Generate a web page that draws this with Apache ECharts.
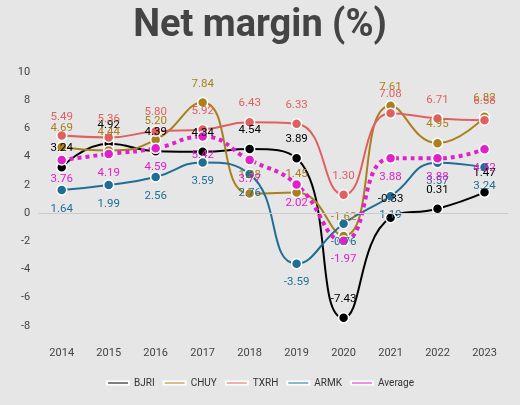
<!DOCTYPE html>
<html><head><meta charset="utf-8">
<script src="https://cdn.jsdelivr.net/npm/echarts@6/dist/echarts.min.js"></script>
<style>body{margin:0;background:#e6e6e6}#c{width:520px;height:405px}</style>
</head><body><div id="c"></div>
<script>
const years = ['2014','2015','2016','2017','2018','2019','2020','2021','2022','2023'];
const bjri = [3.24, 4.92, 4.39, 4.34, 4.54, 3.89, -7.43, -0.33, 0.31, 1.47];
const chuy = [4.69, 4.44, 5.20, 7.84, 1.38, 1.45, -1.62, 7.61, 4.95, 6.82];
const txrh = [5.49, 5.36, 5.80, 5.92, 6.43, 6.33, 1.30, 7.08, 6.71, 6.58];
const armk = [1.64, 1.99, 2.56, 3.59, 2.76, -3.59, -0.76, 1.19, 3.57, 3.24];
const avg = [3.76, 4.19, 4.59, 5.42, 3.77, 2.02, -1.97, 3.88, 3.88, 4.52];

const chart = echarts.init(document.getElementById('c'));
function ser(name, data, color, pos, dotted) {
  return {
    name, type: 'line', data, smooth: true, symbol: 'circle', symbolSize: 10,
    lineStyle: { color, width: dotted ? 4 : 2, type: dotted ? 'dotted' : 'solid' },
    itemStyle: { color, borderColor: '#fff', borderWidth: 1.5 },
    label: { show: true, position: pos, distance: 7, color, fontSize: 11.5, formatter: p => p.value.toFixed(2) }
  };
}
const s = [
  ser('BJRI', bjri, '#000000', 'top'),
  ser('CHUY', chuy, '#a8801c', 'top'),
  ser('TXRH', txrh, '#e06060', 'top'),
  ser('ARMK', armk, '#1f6e96', 'bottom'),
  ser('Average', avg, '#e020c8', 'bottom', true)
];
s[0].markArea = { silent: true, itemStyle: { color: 'rgba(0,0,0,0.07)' }, data: [[{ xAxis: '2020' }, { xAxis: '2020' }]] };
s[0].markLine = { silent: true, symbol: 'none', label: { show: false }, lineStyle: { color: '#ccc', type: 'solid', width: 1 }, data: [{ yAxis: 0 }] };
chart.setOption({
  backgroundColor: '#e6e6e6',
  textStyle: { fontFamily: 'Roboto' },
  title: { text: 'Net margin (%)', left: 'center', top: 2, textStyle: { fontSize: 38, fontWeight: 'bold', color: '#444' } },
  legend: { bottom: 12, itemWidth: 22, itemHeight: 3, icon: 'rect', textStyle: { fontSize: 10, color: '#333' },
    data: ['BJRI', 'CHUY', 'TXRH', 'ARMK', 'Average'] },
  grid: { left: 18, right: 12, top: 72, bottom: 46, containLabel: true },
  xAxis: { type: 'category', data: years, axisLine: { show: false }, axisTick: { show: false },
    axisLabel: { color: '#444', fontSize: 11 } },
  yAxis: { type: 'value', min: -9, max: 10, interval: 1,
    axisLabel: { color: '#444', fontSize: 11, formatter: v => (v % 2 === 0 ? v : '') },
    splitLine: { show: false }, axisLine: { show: false } },
  series: s
});
</script></body></html>
